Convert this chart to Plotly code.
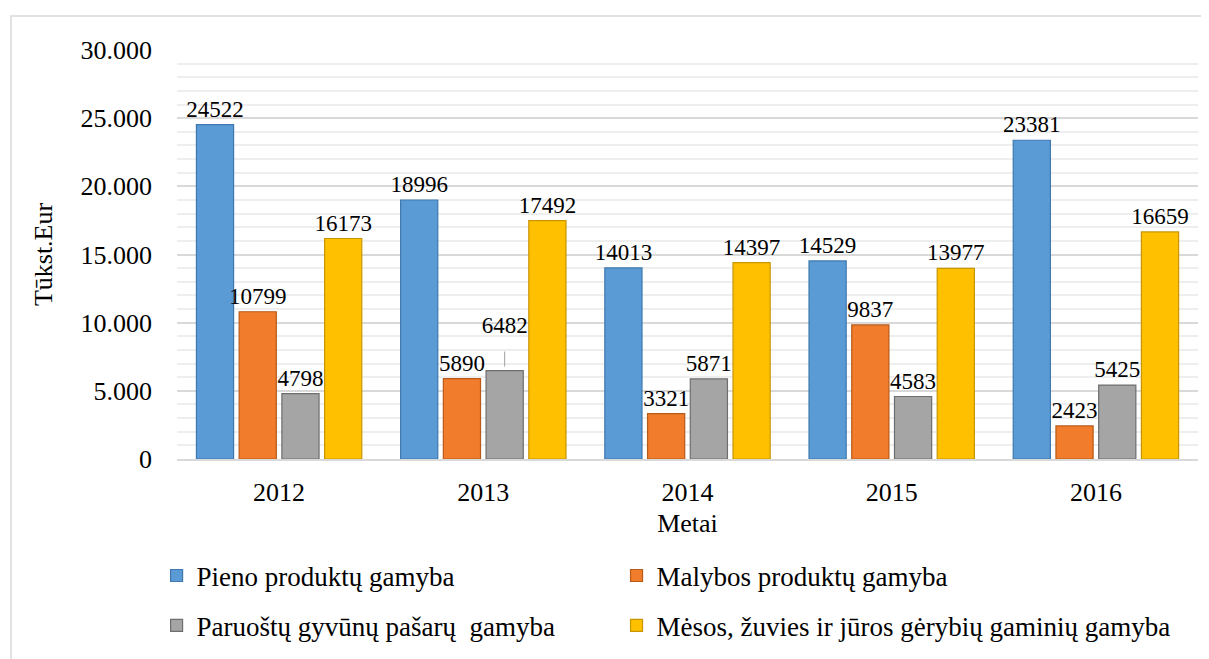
import plotly.graph_objects as go

years = ["2012", "2013", "2014", "2015", "2016"]
pieno = [24522, 18996, 14013, 14529, 23381]
malybos = [10799, 5890, 3321, 9837, 2423]
pasaru = [4798, 6482, 5871, 4583, 5425]
mesos = [16173, 17492, 14397, 13977, 16659]
names = ["Pieno produktų gamyba", "Malybos produktų gamyba",
         "Paruoštų gyvūnų pašarų  gamyba", "Mėsos, žuvies ir jūros gėrybių gaminių gamyba"]
colors = ["#5B9BD5", "#F07C2C", "#A5A5A5", "#FFC000"]
edges = ["#3E78AE", "#B85A18", "#6E6E6E", "#C79600"]
series = [pieno, malybos, pasaru, mesos]
legends = ["legend", "legend2", "legend3", "legend4"]

FONT = "Liberation Serif"
BARGAP = 0.163
GROUPGAP = 0.13

fig = go.Figure()
for i, (nm, vals) in enumerate(zip(names, series)):
    txt = [str(v) for v in vals]
    if i == 2:
        txt = [t + "<br> " if years[j] == "2013" else t for j, t in enumerate(txt)]
    fig.add_trace(go.Bar(
        x=years, y=vals, name=nm, text=txt, textposition="outside",
        texttemplate="%{text}", cliponaxis=False, constraintext="none",
        textfont=dict(family=FONT, size=23, color="#000"),
        marker=dict(color=colors[i], line=dict(color=edges[i], width=1.2)),
        legend=legends[i],
    ))

# leader line for the raised 6482 label (category index + grey bar offset)
slot = (1 - BARGAP) / 4
xg = years.index("2013") + 0.5 * slot
fig.add_shape(type="line", xref="x", yref="y", x0=xg, x1=xg,
              y0=pasaru[1] + 300, y1=pasaru[1] + 1400,
              line=dict(color="#A0A0A0", width=1))

# outer chart border
fig.add_shape(type="rect", xref="paper", yref="paper",
              x0=-0.1626, x1=1.2, y0=-1.0, y1=1.0831,
              line=dict(color="#D9D9D9", width=1.5), fillcolor="rgba(0,0,0,0)", layer="below")

leg_common = dict(orientation="v", xanchor="left", yanchor="middle", itemwidth=30,
                  font=dict(family=FONT, size=27), bgcolor="rgba(0,0,0,0)")
fig.update_layout(
    width=1201, height=651,
    margin=dict(l=169, r=11, t=42, b=200, autoexpand=False),
    paper_bgcolor="white", plot_bgcolor="white",
    separators=",.",
    barmode="group", bargap=BARGAP, bargroupgap=GROUPGAP,
    font=dict(family=FONT, size=26, color="#000"),
    showlegend=True,
    legend=dict(x=-0.020, y=-0.286, **leg_common),
    legend2=dict(x=0.4305, y=-0.286, **leg_common),
    legend3=dict(x=-0.020, y=-0.408, **leg_common),
    legend4=dict(x=0.4305, y=-0.408, **leg_common),
)
fig.update_xaxes(
    type="category",
    title=dict(text="Metai", font=dict(family=FONT, size=26), standoff=8),
    tickfont=dict(family=FONT, size=26), ticklabelstandoff=9,
    showline=True, linecolor="#D9D9D9", linewidth=2, showgrid=False,
)
fig.update_yaxes(
    title=dict(text="Tūkst.Eur", font=dict(family=FONT, size=26), standoff=20),
    range=[0, 30000], dtick=5000, tickformat=",d",
    tickfont=dict(family=FONT, size=26), ticklabelstandoff=24,
    showgrid=True, gridcolor="#D9D9D9", gridwidth=2,
    minor=dict(dtick=1000, showgrid=True, gridcolor="#EEEEEE", gridwidth=1.5),
    zeroline=False, showline=False,
)

fig.write_html("out.html")
